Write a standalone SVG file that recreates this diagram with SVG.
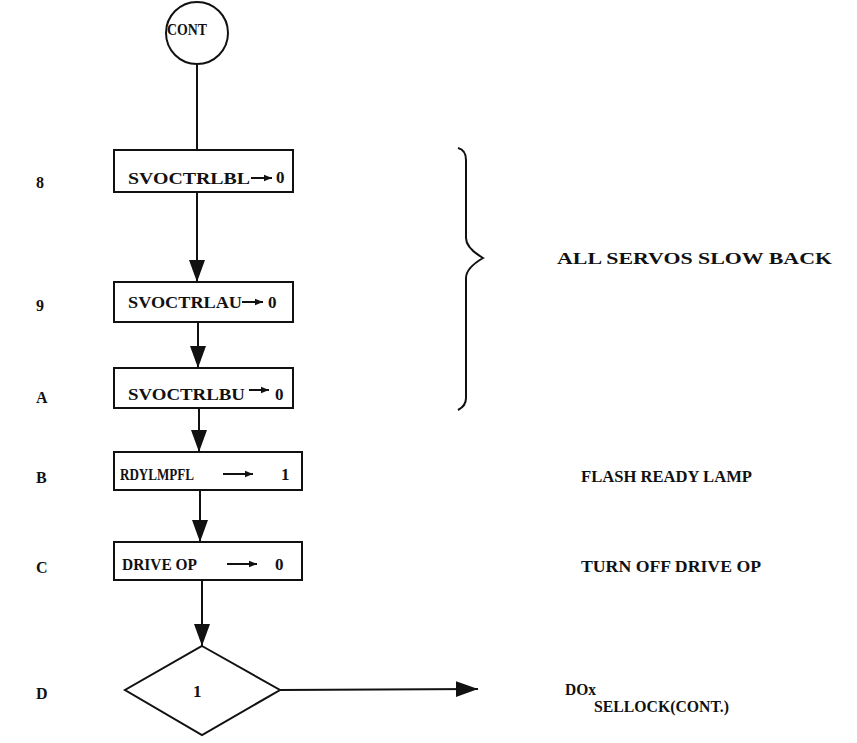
<svg xmlns="http://www.w3.org/2000/svg" width="857" height="743" viewBox="0 0 857 743">
<style>
.box{fill:#fff;stroke:#111;stroke-width:2}
.ln{fill:none;stroke:#111;stroke-width:2}
.t{font-family:"Liberation Serif","DejaVu Serif",serif;font-weight:bold;font-size:17px;fill:#111}
.s{font-family:"Liberation Serif","DejaVu Serif",serif;font-weight:bold;font-size:16px;fill:#111}
</style>
<defs>
<marker id="sm" viewBox="0 0 10 10" refX="10" refY="5" markerWidth="11" markerHeight="8" markerUnits="userSpaceOnUse" orient="auto"><path d="M0,1 L10,5 L0,9 Z" fill="#111"/></marker>
<marker id="big" viewBox="0 0 22 18" refX="22" refY="9" markerWidth="22" markerHeight="18" markerUnits="userSpaceOnUse" orient="auto"><path d="M0,1 L22,9 L0,17 Z" fill="#111"/></marker>
</defs>
<rect width="857" height="743" fill="#fff"/>
<g id="connectors">
<line class="ln" x1="197" y1="64" x2="197" y2="150"/>
<line class="ln" x1="197" y1="192" x2="197" y2="282" marker-end="url(#big)"/>
<line class="ln" x1="198" y1="322" x2="198" y2="368" marker-end="url(#big)"/>
<line class="ln" x1="199" y1="408" x2="199" y2="452" marker-end="url(#big)"/>
<line class="ln" x1="200" y1="490" x2="200" y2="542" marker-end="url(#big)"/>
<line class="ln" x1="202" y1="580" x2="202" y2="646" marker-end="url(#big)"/>
<line class="ln" x1="280" y1="690" x2="478" y2="689" marker-end="url(#big)"/>
</g>
<g id="cont">
<circle cx="197" cy="33" r="31" fill="#fff" stroke="#111" stroke-width="2"/>
<text class="s" x="167" y="35" font-size="15" textLength="40" lengthAdjust="spacingAndGlyphs">CONT</text>
</g>
<g id="n8">
<rect class="box" x="114" y="150" width="179" height="42"/>
<text class="t" x="128" y="184" textLength="122" lengthAdjust="spacingAndGlyphs" font-weight="normal">SVOCTRLBL</text>
<line class="ln" x1="251" y1="178" x2="272" y2="178" stroke-width="1.5" marker-end="url(#sm)"/>
<text class="t" x="276" y="183" font-weight="normal">0</text>
</g>
<g id="n9">
<rect class="box" x="114" y="282" width="179" height="40"/>
<text class="t" x="128" y="308" textLength="114" lengthAdjust="spacingAndGlyphs">SVOCTRLAU</text>
<line class="ln" x1="242" y1="302" x2="263" y2="302" stroke-width="2.5" marker-end="url(#sm)"/>
<text class="t" x="268" y="308">0</text>
</g>
<g id="nA">
<rect class="box" x="114" y="368" width="179" height="40"/>
<text class="t" x="128" y="400" textLength="117" lengthAdjust="spacingAndGlyphs">SVOCTRLBU</text>
<line class="ln" x1="249" y1="390" x2="269" y2="390" stroke-width="2.5" marker-end="url(#sm)"/>
<text class="t" x="275" y="400">0</text>
</g>
<g id="nB">
<rect class="box" x="114" y="452" width="188" height="38"/>
<text class="t" x="120" y="480" textLength="74" lengthAdjust="spacingAndGlyphs">RDYLMPFL</text>
<line class="ln" x1="223" y1="474" x2="253" y2="474" stroke-width="2.5" marker-end="url(#sm)"/>
<text class="t" x="281" y="480">1</text>
</g>
<g id="nC">
<rect class="box" x="114" y="542" width="188" height="38"/>
<text class="t" x="122" y="570" textLength="75" lengthAdjust="spacingAndGlyphs">DRIVE OP</text>
<line class="ln" x1="227" y1="564" x2="257" y2="564" stroke-width="2.5" marker-end="url(#sm)"/>
<text class="t" x="275" y="570">0</text>
</g>
<g id="nD">
<polygon class="box" points="202,646 280,690 202,735 125,690"/>
<text class="t" x="193" y="697">1</text>
</g>
<g id="labels">
<text class="s" x="36" y="188">8</text>
<text class="s" x="36" y="311">9</text>
<text class="s" x="36" y="403">A</text>
<text class="s" x="36" y="483">B</text>
<text class="s" x="36" y="573">C</text>
<text class="s" x="36" y="699">D</text>
</g>
<g id="brace">
<path class="ln" d="M458,148 Q466,150 466,160 L466,238 Q466,248 483,258 Q466,268 466,278 L466,398 Q466,406 458,410"/>
<text class="t" x="557" y="264" textLength="275" lengthAdjust="spacingAndGlyphs">ALL SERVOS SLOW BACK</text>
</g>
<g id="notes">
<text class="t" x="581" y="482" textLength="171" lengthAdjust="spacingAndGlyphs">FLASH READY LAMP</text>
<text class="t" x="581" y="572" textLength="180" lengthAdjust="spacingAndGlyphs">TURN OFF DRIVE OP</text>
<text class="t" x="565" y="695" textLength="31" lengthAdjust="spacingAndGlyphs">DOx</text>
<text class="t" x="594" y="712" textLength="135" lengthAdjust="spacingAndGlyphs" font-weight="normal">SELLOCK(CONT.)</text>
</g>
</svg>
